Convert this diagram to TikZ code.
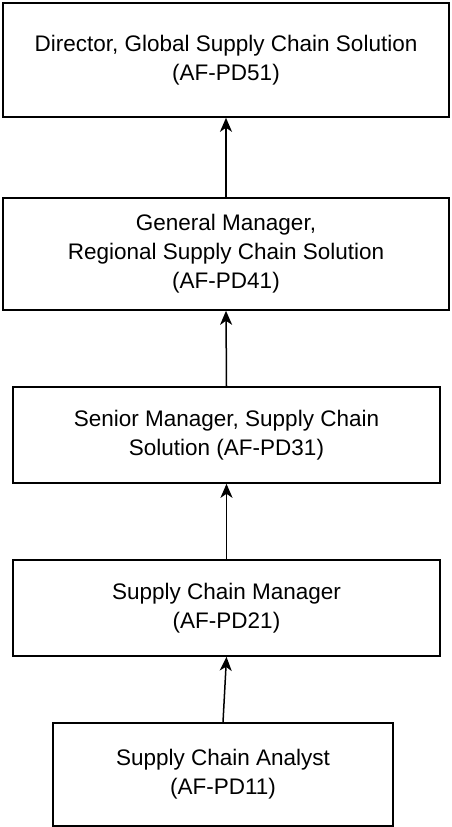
\documentclass[tikz,border=0pt]{standalone}
\usepackage{fontspec}
\setmainfont{Liberation Sans}
\usetikzlibrary{arrows.meta}
\begin{document}
\begin{tikzpicture}[x=1pt,y=-1pt,
  box/.style={draw, line width=1.6pt, align=center, inner sep=0pt, font=\fontsize{22.5}{29}\selectfont},
  arr/.style={-{Stealth[length=14pt,width=12pt,inset=4pt]}, line width=1.5pt}]
\useasboundingbox (0,0) rectangle (451,827);
\node[box, minimum width=446pt, minimum height=114pt] (d) at (226,60) {Director, Global Supply Chain Solution\\(AF-PD51)};
\node[box, minimum width=446pt, minimum height=112pt] (g) at (226,254) {General Manager,\\Regional Supply Chain Solution\\(AF-PD41)};
\node[box, minimum width=427pt, minimum height=96pt] (s) at (226.5,435) {Senior Manager, Supply Chain\\Solution (AF-PD31)};
\node[box, minimum width=427pt, minimum height=96pt] (m) at (226.5,608) {Supply Chain Manager\\(AF-PD21)};
\node[box, minimum width=340pt, minimum height=103pt] (a) at (223,774.5) {Supply Chain Analyst\\(AF-PD11)};
\draw[arr] (g.north) -- (d.south);
\draw[arr] (s.north) -- (g.south);
\draw[arr] (m.north) -- (s.south);
\draw[arr] (a.north) -- (m.south);
\end{tikzpicture}
\end{document}
